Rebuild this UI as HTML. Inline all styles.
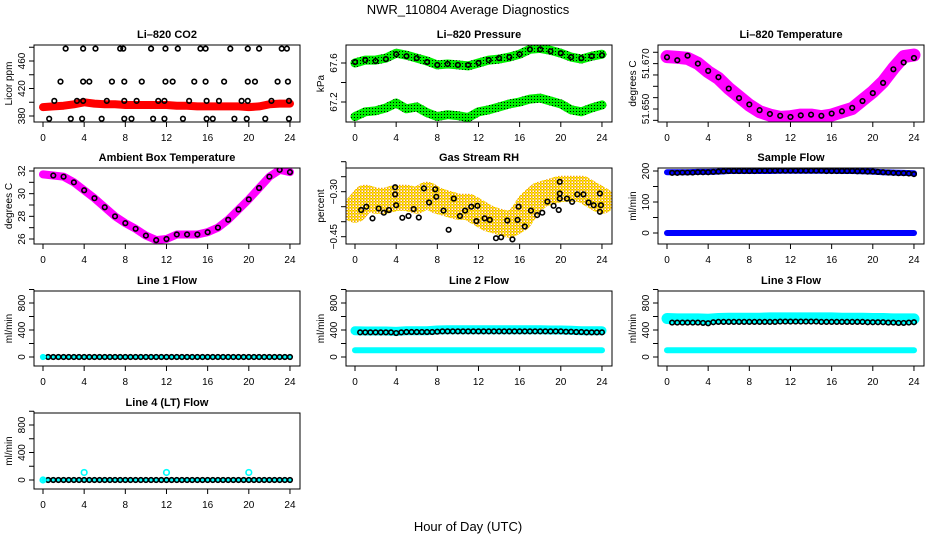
<!DOCTYPE html>
<html><head><meta charset="utf-8"><style>
body{margin:0;background:#fff}
svg{display:block;font-family:"Liberation Sans",Arial,sans-serif}
</style></head><body>
<svg id="fig" width="936" height="540" viewBox="0 0 936 540" xmlns="http://www.w3.org/2000/svg">
<defs>
<pattern id="rhpat" width="3" height="3" patternUnits="userSpaceOnUse"><rect width="3" height="3" fill="#f2a200"/><rect width="1.5" height="1.5" fill="#ffff00"/><rect x="1.5" y="1.5" width="1.5" height="1.5" fill="#ffffff"/></pattern>
<pattern id="grpat" width="3" height="3" patternUnits="userSpaceOnUse"><rect width="3" height="3" fill="#00ee00"/><rect width="1" height="1" fill="#000"/></pattern>
</defs>
<text x="468" y="14" font-size="13" text-anchor="middle">NWR_110804  Average Diagnostics</text>
<text x="468" y="531" font-size="13" text-anchor="middle">Hour of Day (UTC)</text>
<g id="plots"></g>
</svg>
<script>
// ---------- data ----------
const hours25 = [0,1,2,3,4,5,6,7,8,9,10,11,12,13,14,15,16,17,18,19,20,21,22,23,24];
const halfHours = [0.5,1,1.5,2,2.5,3,3.5,4,4.5,5,5.5,6,6.5,7,7.5,8,8.5,9,9.5,10,10.5,11,11.5,12,12.5,13,13.5,14,14.5,15,15.5,16,16.5,17,17.5,18,18.5,19,19.5,20,20.5,21,21.5,22,22.5,23,23.5,24];
const xTicks = [0,4,8,12,16,20,24];

const co2Band = [393,394,395,397,400,398,397,397,396,396,396,396,396,395,395,394,394,394,394,394,393,394,397,398,398];
const co2Hours = [2.2,3.9,5.1,7.5,7.8,10.5,11.9,13.1,15.3,15.8,18.2,19.9,21.0,23.2,23.7,
 1.7,3.9,4.5,6.7,7.9,9.6,11.9,12.6,14.7,15.8,17.6,19.9,20.6,22.8,23.8,
 1.1,3.3,3.9,6.2,7.9,9.1,11.2,11.8,14.2,15.9,17.1,19.3,19.9,22.2,23.9,
 0.6,2.7,3.8,5.7,7.9,8.6,10.7,11.8,13.6,15.9,16.5,18.6,19.8,21.6,23.9];
const co2Values = [478,478,478,478,478,478,478,478,478,478,478,478,478,478,478,
 430,430,430,430,430,430,430,430,430,430,430,430,430,430,430,
 402,402,402,402,402,402,402,402,402,402,402,402,402,402,402,
 376,376,376,376,376,376,376,376,376,376,376,376,376,376,376];

const presUpper = [67.60,67.63,67.63,67.65,67.70,67.68,67.65,67.62,67.58,67.59,67.58,67.57,67.60,67.63,67.64,67.66,67.69,67.74,67.75,67.73,67.70,67.66,67.64,67.67,67.69];
const presLower = [67.05,67.10,67.11,67.14,67.19,67.13,67.15,67.09,67.05,67.07,67.06,67.04,67.10,67.12,67.15,67.18,67.20,67.23,67.24,67.21,67.18,67.12,67.10,67.14,67.17];
const presPoints = [67.61,67.63,67.62,67.64,67.69,67.67,67.65,67.61,67.58,67.59,67.58,67.58,67.60,67.63,67.65,67.66,67.69,67.74,67.74,67.72,67.70,67.66,67.65,67.67,67.68];

const tempBand = [51.6731,51.6728,51.6723,51.6701,51.6664,51.6635,51.6591,51.6554,51.6517,51.6488,51.6473,51.6463,51.6466,51.6473,51.6473,51.6466,51.6473,51.6488,51.6502,51.6539,51.6576,51.6620,51.6679,51.6731,51.6738];
const tempPoints = [51.6728,51.6715,51.6735,51.6700,51.6668,51.6640,51.6590,51.6548,51.6520,51.6495,51.6478,51.6470,51.6465,51.6472,51.6475,51.6470,51.6480,51.6490,51.6505,51.6535,51.6570,51.6615,51.6675,51.6705,51.6725];

const ambBand = [31.7,31.6,31.5,31.0,30.3,29.6,28.8,28.0,27.4,26.9,26.3,25.9,26.0,26.4,26.4,26.4,26.6,27.0,27.7,28.6,29.5,30.5,31.5,32.1,31.9];

const rhBand = [-0.36,-0.32,-0.33,-0.33,-0.32,-0.32,-0.33,-0.31,-0.33,-0.34,-0.35,-0.35,-0.37,-0.39,-0.40,-0.41,-0.39,-0.34,-0.31,-0.30,-0.29,-0.29,-0.29,-0.31,-0.33];
const rhHours = [0.6,1.1,1.7,2.3,2.8,3.3,3.9,3.9,4.0,4.6,5.2,5.7,6.2,6.7,7.2,7.8,7.9,8.6,9.1,9.6,10.2,10.7,11.3,11.9,11.8,12.6,13.1,13.7,14.2,14.8,15.3,15.9,15.8,16.5,17.1,17.7,18.2,18.7,19.3,19.8,19.9,19.9,19.9,20.6,21.1,21.6,22.2,22.7,23.2,23.8,23.9,23.8];
const rhValues = [-0.361,-0.350,-0.389,-0.356,-0.370,-0.361,-0.285,-0.309,-0.345,-0.387,-0.381,-0.358,-0.386,-0.289,-0.336,-0.292,-0.317,-0.363,-0.427,-0.323,-0.381,-0.363,-0.350,-0.347,-0.398,-0.389,-0.394,-0.455,-0.452,-0.396,-0.459,-0.350,-0.394,-0.416,-0.363,-0.378,-0.370,-0.333,-0.347,-0.361,-0.267,-0.306,-0.323,-0.323,-0.334,-0.309,-0.309,-0.336,-0.345,-0.306,-0.345,-0.367];

const sampleUpper = [196,196,196,197,197,198,200,200,200,200,200,201,201,201,201,201,201,200,200,199,198,196,195,194,193];
const sampleLower = [0,0,0,0,0,0,0,0,0,0,0,0,0,0,0,0,0,0,0,0,0,0,0,0,0];
const samplePoints = [194,194,195,195,195,196,196,196,197,198,199,200,200,200,200,200,200,201,201,201,201,201,201,201,201,201,201,201,201,201,200,200,200,200,200,200,199,199,198,198,197,196,195,194,193,193,192,190];

const line1Points = [0,0,0,0,0,0,0,0,0,0,0,0,0,0,0,0,0,0,0,0,0,0,0,0,0,0,0,0,0,0,0,0,0,0,0,0,0,0,0,0,0,0,0,0,0,0,0,0];
const line1Band = [0,0,0,0,0,0,0,0,0,0,0,0,0,0,0,0,0,0,0,0,0,0,0,0,0];

const line2Upper = [390,385,385,385,380,390,390,390,400,405,405,405,405,405,405,405,405,405,405,400,400,395,390,390,390];
const line2Lower = [100,100,100,100,100,100,100,100,100,100,100,100,100,100,100,100,100,100,100,100,100,100,100,100,100];
const line2Points = [365,365,365,365,365,365,365,355,365,370,370,370,370,370,370,375,380,380,380,380,380,380,380,380,380,380,380,380,380,380,380,380,380,380,380,380,380,380,380,380,375,375,370,370,365,365,365,365];

const line3Upper = [570,565,565,565,560,570,575,575,575,575,580,580,580,580,580,580,580,575,575,575,570,570,565,565,565];
const line3Lower = [100,100,100,100,100,100,100,100,100,100,100,100,100,100,100,100,100,100,100,100,100,100,100,100,100];
const line3Points = [510,510,510,510,510,510,505,500,515,520,520,520,520,520,520,520,520,520,520,520,520,525,525,525,525,525,525,525,525,520,520,520,520,520,520,520,520,520,515,515,515,515,510,510,505,505,510,515];

const line4Points = [0,0,0,0,0,0,0,0,0,0,0,0,0,0,0,0,0,0,0,0,0,0,0,0,0,0,0,0,0,0,0,0,0,0,0,0,0,0,0,0,0,0,0,0,0,0,0,0];
const line4SpikeHours = [0,4,12,20];
const line4SpikeValues = [0,110,110,110];

// ---------- layout ----------
const colL = [34,346,658];
const rows = [[45,122],[168,244],[291,366],[413,489]];
const NS = 'http://www.w3.org/2000/svg';
const root = document.getElementById('plots');
function mk(tag, attrs, parent){const e=document.createElementNS(NS,tag);for(const k in attrs)e.setAttribute(k,attrs[k]);(parent||root).appendChild(e);return e;}

function panel(name, c, r, title, ylab, v1, p1, v2, p2, ticks, labels){
  const L=colL[c], R=L+266, T=rows[r][0], B=rows[r][1];
  const g=mk('g',{});
  
  
  const x=h=>L+9+h*10.29;
  const y=v=>p1+(v-v1)*(p2-p1)/(v2-v1);
  const t=mk('text',{x:(L+R)/2,y:T-7,'font-size':11,'font-weight':'bold','text-anchor':'middle'},g);
  t.textContent=title;
  
  
  const yl=mk('text',{x:0,y:0,'font-size':10,'text-anchor':'middle',transform:`translate(${L-22},${(T+B)/2}) rotate(-90)`},g);
  yl.textContent=ylab;
  
  
  const clip=mk('clipPath',{id:'clip-'+name},g);
  mk('rect',{x:L,y:T,width:R-L,height:B-T},clip);
  const data=mk('g',{'clip-path':'url(#clip-'+name+')'},g);
  
  
  const box=mk('rect',{x:L,y:T,width:R-L,height:B-T,fill:'none',stroke:'#000','stroke-width':1},g);
  
  
  const ax=mk('g',{stroke:'#000','stroke-width':1},g);
  
  
  xTicks.forEach(h=>{
    mk('line',{x1:x(h),x2:x(h),y1:B,y2:B+5},ax);
    const tl=mk('text',{x:x(h),y:B+19,'font-size':10,'text-anchor':'middle',stroke:'none'},ax);
    tl.textContent=h;
    
    
  });
  const ay=mk('g',{stroke:'#000','stroke-width':1},g);
  
  
  mk('line',{x1:L,x2:L,y1:y(ticks[0]),y2:y(ticks[ticks.length-1])},ay);
  ticks.forEach(v=>{mk('line',{x1:L-5,x2:L,y1:y(v),y2:y(v)},ay);});
  labels.forEach(([v,s])=>{
    const tl=mk('text',{x:0,y:0,'font-size':10,'text-anchor':'middle',stroke:'none',transform:`translate(${L-9},${y(v)}) rotate(-90)`},ay);
    tl.textContent=s;
    
    
  });
  return {x,y,g:data};
}
function band(p, hs, vs, color, w, nm){
  const d=hs.map((h,i)=>(i?'L':'M')+p.x(h).toFixed(1)+','+p.y(vs[i]).toFixed(1)).join('');
  const e=mk('path',{d,fill:'none',stroke:color,'stroke-width':w,'stroke-linecap':'round','stroke-linejoin':'round'},p.g);
  
  
}
function pts(p, hs, vs, color, nm, r){
  const gg=mk('g',{fill:'none',stroke:color,'stroke-width':1.6},p.g);
  
  
  hs.forEach((h,i)=>{
    const c=mk('circle',{cx:p.x(h),cy:p.y(vs[i]),r:r||2.3},gg);
    
    
  });
}

// CO2
let p=panel('co2',0,0,'Li\u2013820 CO2','Licor ppm',380,116,460,61,[380,400,420,440,460,480],[[380,'380'],[420,'420'],[460,'460']]);
band(p,hours25,co2Band,'#ff0000',8,'co2-band');
pts(p,co2Hours,co2Values,'#000','co2-points');

// Pressure
p=panel('pressure',1,0,'Li\u2013820 Pressure','kPa',67.6,63,67.2,102,[67.2,67.4,67.6],[[67.2,'67.2'],[67.6,'67.6']]);
band(p,hours25,presUpper,'url(#grpat)',9,'pressure-upper-band');
band(p,hours25,presLower,'url(#grpat)',9,'pressure-lower-band');
pts(p,hours25,presPoints,'#000','pressure-points');

// Temperature
p=panel('temperature',2,0,'Li\u2013820 Temperature','degrees C',51.650,109,51.676,50,[51.645,51.650,51.655,51.660,51.665,51.670,51.675],[[51.670,'51.670'],[51.650,'51.650']]);
band(p,hours25,tempBand,'#ff00ff',13,'temperature-band');
pts(p,hours25,tempPoints,'#000','temperature-points');

// Ambient
p=panel('ambient',0,1,'Ambient Box Temperature','degrees C',32,171,26,239,[26,27,28,29,30,31,32],[[26,'26'],[28,'28'],[30,'30'],[32,'32']]);
band(p,hours25,ambBand,'#ff00ff',8,'ambient-band');
pts(p,hours25.slice(1),ambBand.slice(1),'#000','ambient-points');

// Gas RH
p=panel('gas-rh',1,1,'Gas Stream RH','percent',-0.30,191.7,-0.45,236.7,[-0.45,-0.40,-0.35,-0.30,-0.25,-0.20],[[-0.30,'\u22120.30'],[-0.45,'\u22120.45']]);
band(p,hours25,rhBand,'url(#rhpat)',26,'gas-rh-band');
pts(p,rhHours,rhValues,'#000','gas-rh-points');

// Sample flow
p=panel('sample-flow',2,1,'Sample Flow','ml/min',200,171,0,233,[0,50,100,150,200],[[0,'0'],[100,'100'],[200,'200']]);
band(p,hours25,sampleUpper,'#0000ff',6,'sample-flow-upper-band');
band(p,hours25,sampleLower,'#0000ff',6,'sample-flow-lower-band');
pts(p,halfHours,samplePoints,'#000','sample-flow-points');

const flowTicks=[0,200,400,600,800,1000];
const flowLabels=[[0,'0'],[400,'400'],[800,'800']];
// Line 1
p=panel('line1-flow',0,2,'Line 1 Flow','ml/min',0,357,800,303,flowTicks,flowLabels);
band(p,hours25,line1Band,'#00ffff',4,'line1-band');
pts(p,halfHours,line1Points,'#000','line1-points');
pts(p,[0],[0],'#00ffff','line1-start');
// Line 2
p=panel('line2-flow',1,2,'Line 2 Flow','ml/min',0,357,800,303,flowTicks,flowLabels);
band(p,hours25,line2Upper,'#00ffff',9,'line2-upper-band');
band(p,hours25,line2Lower,'#00ffff',6,'line2-lower-band');
pts(p,halfHours,line2Points,'#000','line2-points');
// Line 3
p=panel('line3-flow',2,2,'Line 3 Flow','ml/min',0,357,800,303,flowTicks,flowLabels);
band(p,hours25,line3Upper,'#00ffff',11,'line3-upper-band');
band(p,hours25,line3Lower,'#00ffff',6,'line3-lower-band');
pts(p,halfHours,line3Points,'#000','line3-points');
// Line 4
p=panel('line4-flow',0,3,'Line 4 (LT) Flow','ml/min',0,480,800,425,flowTicks,flowLabels);
band(p,hours25,line1Band,'#00ffff',4,'line4-band');
pts(p,halfHours,line4Points,'#000','line4-points');
pts(p,line4SpikeHours,line4SpikeValues,'#00ffff','line4-spikes',2.8);
</script>
</body></html>
